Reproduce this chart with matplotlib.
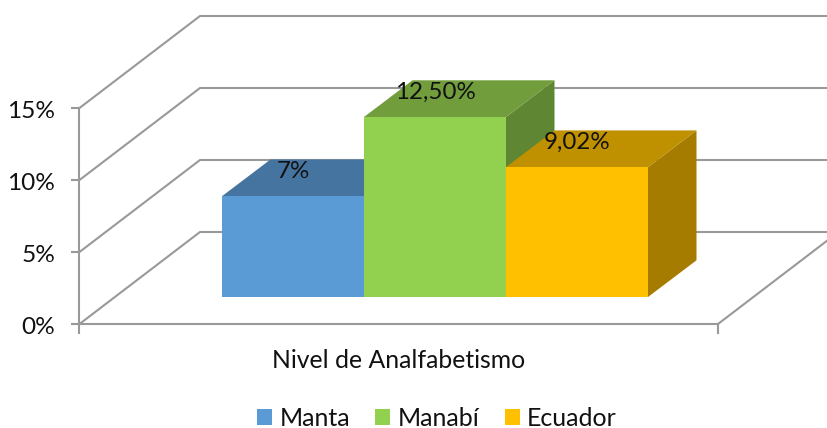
import matplotlib
matplotlib.use("Agg")
import matplotlib.pyplot as plt
from matplotlib.patches import Polygon, Patch

series = ["Manta", "Manabí", "Ecuador"]
values = [7.0, 12.5, 9.02]
value_labels = ["7%", "12,50%", "9,02%"]
front_colors = ["#5B9BD5", "#92D050", "#FFC000"]
top_colors = ["#44749F", "#719D3C", "#BF9000"]
side_colors = ["#3E6990", "#5F8633", "#A67C00"]
axis_ticks = [0, 5, 10, 15]
axis_tick_labels = ["0%", "5%", "10%", "15%"]
category = "Nivel de Analfabetismo"

W, H = 828, 428
PX = 14.4            # pixels per percentage point
Y0 = 324             # pixel row of 0 %
U = 1 / PX
GRID = "#999999"

plt.rcParams["font.family"] = ["Lato", "DejaVu Sans"]
fig = plt.figure(figsize=(W / 100, H / 100), dpi=100)
ax = fig.add_axes([0, 0, 1, 1])
ax.set_xlim(0, W)
ax.set_ylim(-(H - Y0) * U, Y0 * U)
ax.axis("off")

# frame geometry
ax_x, right_x = 79.5, 718
wall_dx, wall_dy = 120.5, 92 * U
base = 27 * U
bar_x, bar_w = 222, 142
dx, dy = 48.5, 36.7 * U

# walls and gridlines
for t in axis_ticks:
    ax.plot([ax_x, ax_x + wall_dx, W], [t, t + wall_dy, t + wall_dy],
            color=GRID, lw=1.5, solid_joinstyle="miter", zorder=1)
    ax.plot([72, ax_x], [t, t], color=GRID, lw=1.5, zorder=1)
for t, lab in zip(axis_ticks, axis_tick_labels):
    ax.text(55, t - 3.5 * U, lab, ha="right", va="center", fontsize=17.6, color="#111111")
ax.plot([ax_x, ax_x], [-9 * U, axis_ticks[-1]], color=GRID, lw=1.5, zorder=1)
ax.plot([ax_x, right_x], [0, 0], color=GRID, lw=1.5, zorder=1)
ax.plot([right_x, right_x], [0, -9 * U], color=GRID, lw=1.5, zorder=1)
ax.plot([right_x, W], [0, (W - right_x) * wall_dy / wall_dx], color=GRID, lw=1.5, zorder=1)

# 3-D bars
for i, v in enumerate(values):
    x0 = bar_x + i * bar_w
    x1 = x0 + bar_w
    b, t = base, base + v
    ax.add_patch(Polygon([(x1, b), (x1 + dx, b + dy), (x1 + dx, t + dy), (x1, t)],
                         fc=side_colors[i], ec="none", zorder=2 + i))
    ax.add_patch(Polygon([(x0, t), (x1, t), (x1 + dx, t + dy), (x0 + dx, t + dy)],
                         fc=top_colors[i], ec="none", zorder=2 + i))
    ax.add_patch(Polygon([(x0, b), (x1, b), (x1, t), (x0, t)],
                         fc=front_colors[i], ec="none", zorder=2 + i))
for i, (v, lab) in enumerate(zip(values, value_labels)):
    ax.text(bar_x + (i + 0.5) * bar_w, base + v + base - 2 * U, lab, ha="center", va="center",
            fontsize=17.4, color="#111111", zorder=10)

ax.text(399, -36 * U, category, ha="center", va="center", fontsize=17.8, color="#111111")

handles = [Patch(fc=c, ec="none", label=s) for c, s in zip(front_colors, series)]
fig.legend(handles=handles, loc="center", bbox_to_anchor=(437 / W, 1 - 418.5 / H), ncols=3,
           frameon=False, fontsize=18, handlelength=0.6, handleheight=0.6,
           handletextpad=0.3, columnspacing=1.0, labelcolor="#111111",
           borderpad=0, borderaxespad=0)

fig.savefig("out.png", dpi=100)
